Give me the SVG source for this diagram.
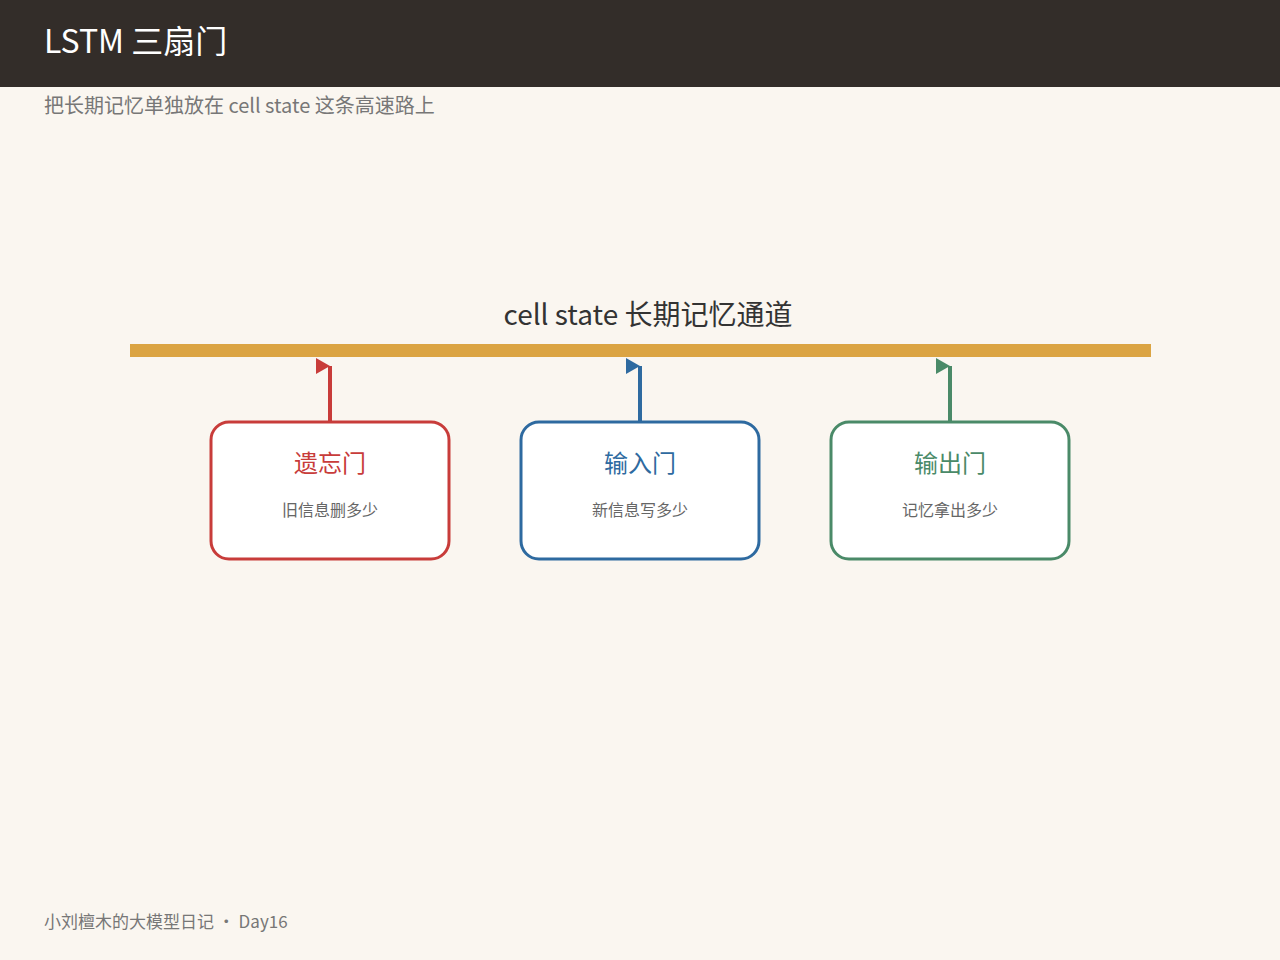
<svg xmlns="http://www.w3.org/2000/svg" width="1280" height="960" viewBox="0 0 1280 960">
<style>
text{font-family:"Noto Sans CJK SC","Noto Sans",sans-serif}
.box{fill:#fff;stroke-width:3}
.t{font-size:24px;text-anchor:middle}
.s{font-size:16px;fill:#666;text-anchor:middle}
.c{stroke-width:4;fill:none}
</style>
<defs>
<marker id="mr" markerUnits="userSpaceOnUse" markerWidth="16" markerHeight="18" refX="15" refY="9" orient="0"><path d="M1,1 L15,9 L1,17 Z" fill="#c83c3a"/></marker>
<marker id="mb" markerUnits="userSpaceOnUse" markerWidth="16" markerHeight="18" refX="15" refY="9" orient="0"><path d="M1,1 L15,9 L1,17 Z" fill="#2e6aa0"/></marker>
<marker id="mg" markerUnits="userSpaceOnUse" markerWidth="16" markerHeight="18" refX="15" refY="9" orient="0"><path d="M1,1 L15,9 L1,17 Z" fill="#4a8a68"/></marker>
</defs>
<rect width="1280" height="960" fill="#faf6f0"/>
<rect width="1280" height="87" fill="#332d29"/>
<text x="44" y="53" font-size="32" fill="#fff">LSTM 三扇门</text>
<text x="44" y="113" font-size="20" fill="#777">把长期记忆单独放在 cell state 这条高速路上</text>
<text x="648" y="325" font-size="28" fill="#333" text-anchor="middle">cell state 长期记忆通道</text>
<rect x="130" y="344" width="1021" height="13" fill="#dba443"/>
<g id="connectors">
<line class="c" x1="330" y1="422" x2="330" y2="366" stroke="#c83c3a" marker-end="url(#mr)"/>
<line class="c" x1="640" y1="422" x2="640" y2="366" stroke="#2e6aa0" marker-end="url(#mb)"/>
<line class="c" x1="950" y1="422" x2="950" y2="366" stroke="#4a8a68" marker-end="url(#mg)"/>
</g>
<g id="forget"><rect class="box" x="211" y="422" width="238" height="137" rx="18" stroke="#c83c3a"/><text class="t" x="330" y="472" fill="#c83c3a">遗忘门</text><text class="s" x="330" y="516">旧信息删多少</text></g>
<g id="input"><rect class="box" x="521" y="422" width="238" height="137" rx="18" stroke="#2e6aa0"/><text class="t" x="640" y="472" fill="#2e6aa0">输入门</text><text class="s" x="640" y="516">新信息写多少</text></g>
<g id="output"><rect class="box" x="831" y="422" width="238" height="137" rx="18" stroke="#4a8a68"/><text class="t" x="950" y="472" fill="#4a8a68">输出门</text><text class="s" x="950" y="516">记忆拿出多少</text></g>
<text x="44" y="928" font-size="17" fill="#777">小刘檀木的大模型日记 ·  Day16</text>
</svg>
